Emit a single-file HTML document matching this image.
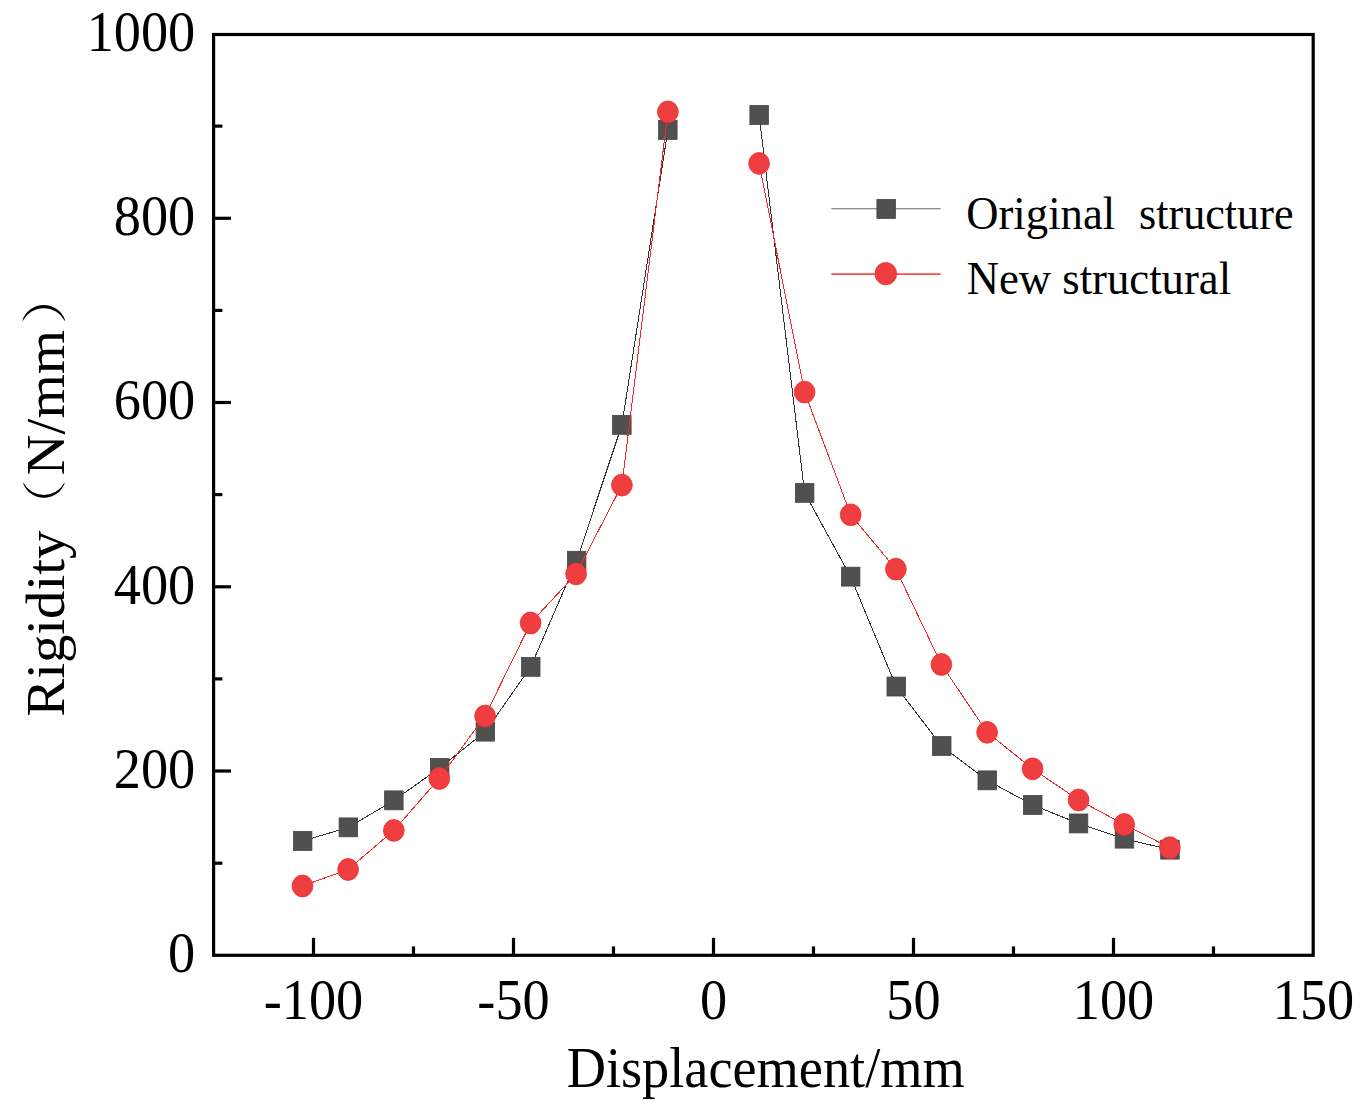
<!DOCTYPE html>
<html>
<head>
<meta charset="utf-8">
<style>
html,body{margin:0;padding:0;background:#fff;}
body{width:1364px;height:1106px;overflow:hidden;}
svg{display:block;}
text{font-family:"Liberation Serif",serif;fill:#000;}
</style>
</head>
<body>
<svg width="1364" height="1106" viewBox="0 0 1364 1106">
<rect x="0" y="0" width="1364" height="1106" fill="#fff"/>

<g fill="none" stroke="#000" stroke-width="3.2" stroke-linecap="square">
<rect x="213.6" y="34.5" width="1099.6" height="920.8"/>
</g>
<g stroke="#000" stroke-width="3.2">
<line x1="313.5" y1="955" x2="313.5" y2="937.9"/>
<line x1="513.5" y1="955" x2="513.5" y2="937.9"/>
<line x1="713.5" y1="955" x2="713.5" y2="937.9"/>
<line x1="913.5" y1="955" x2="913.5" y2="937.9"/>
<line x1="1113.5" y1="955" x2="1113.5" y2="937.9"/>
<line x1="413.5" y1="955" x2="413.5" y2="946.4"/>
<line x1="613.5" y1="955" x2="613.5" y2="946.4"/>
<line x1="813.5" y1="955" x2="813.5" y2="946.4"/>
<line x1="1013.5" y1="955" x2="1013.5" y2="946.4"/>
<line x1="1213.5" y1="955" x2="1213.5" y2="946.4"/>
<line x1="214" y1="771.0" x2="231" y2="771.0"/>
<line x1="214" y1="586.8" x2="231" y2="586.8"/>
<line x1="214" y1="402.5" x2="231" y2="402.5"/>
<line x1="214" y1="218.3" x2="231" y2="218.3"/>
<line x1="214" y1="863.2" x2="222.4" y2="863.2"/>
<line x1="214" y1="678.9" x2="222.4" y2="678.9"/>
<line x1="214" y1="494.6" x2="222.4" y2="494.6"/>
<line x1="214" y1="310.4" x2="222.4" y2="310.4"/>
<line x1="214" y1="126.1" x2="222.4" y2="126.1"/>
</g>
<g fill="none" stroke="#333" stroke-width="1" shape-rendering="crispEdges">
<polyline points="302.6,841.0 348.4,827.4 393.9,800.4 439.7,767.9 485.3,731.7 530.7,666.9 576.6,560.8 621.9,424.9 667.9,130.0"/>
<polyline points="759.1,115.0 804.6,492.8 850.6,576.7 896.2,686.6 941.7,746.1 987.3,780.4 1032.8,805.0 1078.6,823.5 1124.4,838.7 1169.9,849.7"/>
</g>
<g fill="#505050" stroke="#454545" stroke-width="0.8">
<rect x="293.4" y="831.5" width="18.5" height="18.9"/>
<rect x="339.1" y="817.9" width="18.5" height="18.9"/>
<rect x="384.6" y="790.9" width="18.5" height="18.9"/>
<rect x="430.4" y="758.4" width="18.5" height="18.9"/>
<rect x="476.1" y="722.2" width="18.5" height="18.9"/>
<rect x="521.5" y="657.4" width="18.5" height="18.9"/>
<rect x="567.4" y="551.3" width="18.5" height="18.9"/>
<rect x="612.6" y="415.4" width="18.5" height="18.9"/>
<rect x="658.6" y="120.5" width="18.5" height="18.9"/>
<rect x="749.9" y="105.5" width="18.5" height="18.9"/>
<rect x="795.4" y="483.4" width="18.5" height="18.9"/>
<rect x="841.4" y="567.2" width="18.5" height="18.9"/>
<rect x="887.0" y="677.1" width="18.5" height="18.9"/>
<rect x="932.5" y="736.6" width="18.5" height="18.9"/>
<rect x="978.0" y="770.9" width="18.5" height="18.9"/>
<rect x="1023.5" y="795.5" width="18.5" height="18.9"/>
<rect x="1069.3" y="814.0" width="18.5" height="18.9"/>
<rect x="1115.2" y="829.2" width="18.5" height="18.9"/>
<rect x="1160.7" y="840.2" width="18.5" height="18.9"/>
</g>
<g fill="none" stroke="#F02828" stroke-width="1" shape-rendering="crispEdges">
<polyline points="302.5,886.0 348.1,869.5 393.8,830.4 439.3,778.5 485.1,716.0 530.6,623.0 576.1,573.9 621.9,485.1 667.9,111.9"/>
<polyline points="759.1,163.4 804.6,392.1 850.7,514.8 895.9,569.2 941.4,664.5 987.1,732.3 1032.6,768.8 1078.6,800.0 1124.2,824.5 1169.8,847.7"/>
</g>
<g fill="#EF3E40" stroke="#EE2C2C" stroke-width="0.8">
<ellipse cx="302.5" cy="886.0" rx="10.4" ry="10.9"/>
<ellipse cx="348.1" cy="869.5" rx="10.4" ry="10.9"/>
<ellipse cx="393.8" cy="830.4" rx="10.4" ry="10.9"/>
<ellipse cx="439.3" cy="778.5" rx="10.4" ry="10.9"/>
<ellipse cx="485.1" cy="716.0" rx="10.4" ry="10.9"/>
<ellipse cx="530.6" cy="623.0" rx="10.4" ry="10.9"/>
<ellipse cx="576.1" cy="573.9" rx="10.4" ry="10.9"/>
<ellipse cx="621.9" cy="485.1" rx="10.4" ry="10.9"/>
<ellipse cx="667.9" cy="111.9" rx="10.4" ry="10.9"/>
<ellipse cx="759.1" cy="163.4" rx="10.4" ry="10.9"/>
<ellipse cx="804.6" cy="392.1" rx="10.4" ry="10.9"/>
<ellipse cx="850.7" cy="514.8" rx="10.4" ry="10.9"/>
<ellipse cx="895.9" cy="569.2" rx="10.4" ry="10.9"/>
<ellipse cx="941.4" cy="664.5" rx="10.4" ry="10.9"/>
<ellipse cx="987.1" cy="732.3" rx="10.4" ry="10.9"/>
<ellipse cx="1032.6" cy="768.8" rx="10.4" ry="10.9"/>
<ellipse cx="1078.6" cy="800.0" rx="10.4" ry="10.9"/>
<ellipse cx="1124.2" cy="824.5" rx="10.4" ry="10.9"/>
<ellipse cx="1169.8" cy="847.7" rx="10.4" ry="10.9"/>
</g>
<line x1="831.3" y1="208.7" x2="940.7" y2="208.7" stroke="#6a6a6a" stroke-width="1.1"/>
<rect x="876.9" y="199.5" width="18.5" height="18.9" fill="#505050" stroke="#454545" stroke-width="0.8"/>
<line x1="831.3" y1="274.1" x2="940.7" y2="274.1" stroke="#F24E4E" stroke-width="1.6"/>
<ellipse cx="885.8" cy="273.7" rx="10.8" ry="11.2" fill="#EF3E40" stroke="#EE2C2C" stroke-width="0.8"/>
<text transform="translate(195.20,972.20) scale(1,1.050)" font-size="54.30" text-anchor="end">0</text>
<text transform="translate(195.20,787.94) scale(1,1.050)" font-size="54.30" text-anchor="end">200</text>
<text transform="translate(195.20,603.68) scale(1,1.050)" font-size="54.30" text-anchor="end">400</text>
<text transform="translate(195.20,419.42) scale(1,1.050)" font-size="54.30" text-anchor="end">600</text>
<text transform="translate(195.20,235.16) scale(1,1.050)" font-size="54.30" text-anchor="end">800</text>
<text transform="translate(195.20,50.90) scale(1,1.050)" font-size="54.30" text-anchor="end">1000</text>
<text transform="translate(313.50,1019.10) scale(1,1.050)" font-size="54.30" text-anchor="middle">-100</text>
<text transform="translate(513.50,1019.10) scale(1,1.050)" font-size="54.30" text-anchor="middle">-50</text>
<text transform="translate(713.50,1019.10) scale(1,1.050)" font-size="54.30" text-anchor="middle">0</text>
<text transform="translate(913.50,1019.10) scale(1,1.050)" font-size="54.30" text-anchor="middle">50</text>
<text transform="translate(1113.50,1019.10) scale(1,1.050)" font-size="54.30" text-anchor="middle">100</text>
<text transform="translate(1313.50,1019.10) scale(1,1.050)" font-size="54.30" text-anchor="middle">150</text>
<text transform="translate(566.70,1086.70) scale(1,1.050)" font-size="54.30" text-anchor="start">Displacement/mm</text>
<text transform="translate(966.20,229.20) scale(1,1.050)" font-size="44.70" text-anchor="start">Original</text>
<text transform="translate(1139.00,229.2) scale(0.988,1.050)" font-size="44.70">structure</text>
<text transform="translate(966.70,294.20) scale(1,1.050)" font-size="44.70" text-anchor="start">New structural</text>
<g transform="translate(64.2,715) rotate(-90) scale(1.045,1)">
<text x="-1.6" y="0" font-size="54.30">Rigidity</text>
</g>
<g transform="translate(64.2,475.6) rotate(-90) scale(1.050,1)">
<text x="0" y="0" font-size="54.30">N/mm</text>
</g>
<path fill="#000" d="M23.1 483.2 A22.12 22.12 0 0 0 64.7 483.2 L64.2 482.9 A23.17 23.17 0 0 1 23.6 482.9 Z"/>
<path fill="#000" d="M22.3 320.5 A22.64 22.64 0 0 1 65.2 320.5 L64.7 320.7 A23.8 23.8 0 0 0 22.8 320.7 Z"/>
</svg>
</body>
</html>
